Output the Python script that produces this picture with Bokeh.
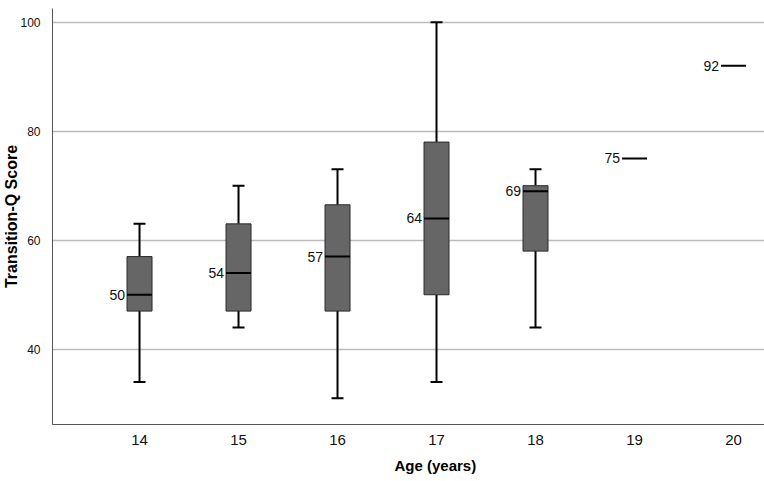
from bokeh.plotting import figure
from bokeh.models import FixedTicker, Range1d, Title, ColumnDataSource
from bokeh.core.properties import value
from bokeh.embed import file_html
from bokeh.resources import INLINE

# Data
box_ages = [14, 15, 16, 17, 18]
mins = [34, 44, 31, 34, 44]
q1s = [47, 47, 47, 50, 58]
q3s = [57, 63, 66.5, 78, 70]
maxs = [63, 70, 73, 100, 73]
all_ages = [14, 15, 16, 17, 18, 19, 20]
medians = [50, 54, 57, 64, 69, 75, 92]
x_ticks = [14, 15, 16, 17, 18, 19, 20]
y_ticks = [40, 60, 80, 100]

FONT = "Liberation Sans"
BOX_W = 0.2525
CAP_W = 0.121

p = figure(width=764, height=481, output_backend="svg", toolbar_location=None,
           x_range=Range1d(13.121, 20.313), y_range=Range1d(26.2, 102.5),
           min_border_left=52, min_border_right=0, min_border_top=8,
           min_border_bottom=57)
p.outline_line_color = None
p.background_fill_color = "white"

box_src = ColumnDataSource(dict(x=box_ages, lo=mins, q1=q1s, q3=q3s, hi=maxs,
                                xl=[a - CAP_W / 2 for a in box_ages],
                                xr=[a + CAP_W / 2 for a in box_ages]))
med_src = ColumnDataSource(dict(x=all_ages, m=medians,
                                x0=[a - BOX_W / 2 for a in all_ages],
                                x1=[a + BOX_W / 2 for a in all_ages],
                                t=[str(v) for v in medians]))

# whiskers
p.segment(x0="x", y0="q3", x1="x", y1="hi", source=box_src, line_color="black", line_width=2)
p.segment(x0="x", y0="q1", x1="x", y1="lo", source=box_src, line_color="black", line_width=2)
p.segment(x0="xl", y0="hi", x1="xr", y1="hi", source=box_src, line_color="black", line_width=2)
p.segment(x0="xl", y0="lo", x1="xr", y1="lo", source=box_src, line_color="black", line_width=2)
# boxes
p.vbar(x="x", width=BOX_W, bottom="q1", top="q3", source=box_src,
       fill_color="#666666", line_color="#2a2a2a", line_width=1)
# medians
p.segment(x0="x0", y0="m", x1="x1", y1="m", source=med_src, line_color="black", line_width=2)
p.text(x="x0", y="m", text="t", source=med_src, text_align="right", text_baseline="middle",
       x_offset=-2, text_font=value(FONT), text_font_size="14px", text_color="#111111")

# axes
p.xaxis.ticker = FixedTicker(ticks=x_ticks)
p.yaxis.ticker = FixedTicker(ticks=y_ticks)
for ax in (p.xaxis[0], p.yaxis[0]):
    ax.axis_line_color = "#555555"
    ax.axis_line_width = 1
    ax.major_tick_line_color = None
    ax.minor_tick_line_color = None
    ax.major_label_text_font = FONT
    ax.major_label_text_color = "#111111"
p.xaxis.major_label_text_font_size = "15px"
p.xaxis.major_label_standoff = 4
p.yaxis.major_label_text_font_size = "12px"
p.yaxis.major_label_standoff = 6
p.yaxis.axis_label = "Transition-Q Score"
p.yaxis.axis_label_text_font = FONT
p.yaxis.axis_label_text_font_style = "bold"
p.yaxis.axis_label_text_font_size = "16px"
p.yaxis.axis_label_text_color = "black"
p.yaxis.axis_label_standoff = -3

p.xgrid.grid_line_color = None
p.ygrid.grid_line_color = "#bcbcbc"
p.ygrid.grid_line_width = 1.5

p.add_layout(Title(text="Age (years)", align="left", offset=342, standoff=14,
                   text_font=FONT, text_font_style="bold", text_font_size="15px",
                   text_color="black"), "below")

open("out.html", "w").write(file_html(p, INLINE))
